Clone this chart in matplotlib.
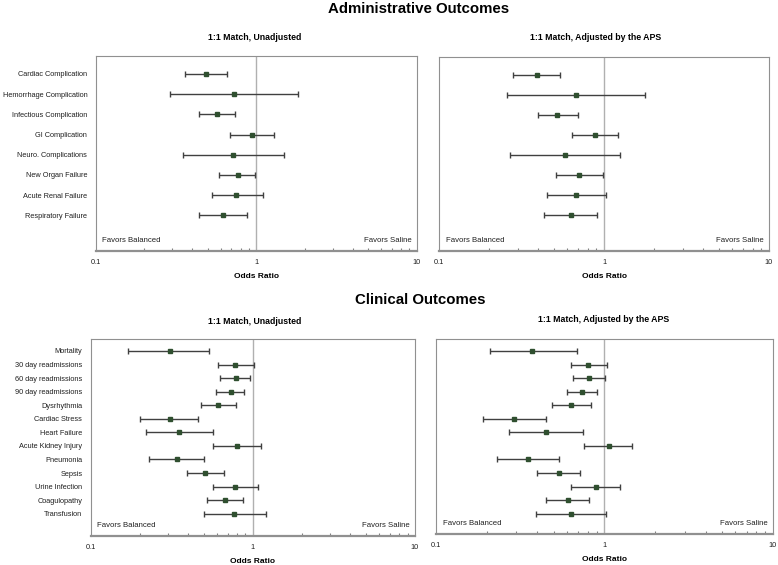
import matplotlib.pyplot as plt
from matplotlib.ticker import LogLocator, NullFormatter

plt.rcParams['font.family'] = ['Liberation Sans', 'DejaVu Sans']

# Administrative outcomes
admin_labels = ["Cardiac Complication", "Hemorrhage Complication", "Infectious Complication",
                "GI Complication", "Neuro. Complications", "New Organ Failure",
                "Acute Renal Failure", "Respiratory Failure"]
admin_unadj_or = [0.49, 0.73, 0.57, 0.94, 0.72, 0.77, 0.75, 0.62]
admin_unadj_lo = [0.36, 0.29, 0.44, 0.69, 0.35, 0.59, 0.53, 0.44]
admin_unadj_hi = [0.66, 1.82, 0.74, 1.29, 1.48, 0.99, 1.10, 0.88]
admin_adj_or = [0.39, 0.68, 0.52, 0.88, 0.58, 0.71, 0.68, 0.63]
admin_adj_lo = [0.28, 0.26, 0.40, 0.64, 0.27, 0.51, 0.45, 0.43]
admin_adj_hi = [0.54, 1.77, 0.70, 1.22, 1.25, 0.98, 1.03, 0.91]

# Clinical outcomes
clin_labels = ["Mortality", "30 day readmissions", "60 day readmissions", "90 day readmissions",
               "Dysrhythmia", "Cardiac Stress", "Heart Failure", "Acute Kidney Injury",
               "Pneumonia", "Sepsis", "Urine Infection", "Coagulopathy", "Transfusion"]
clin_unadj_or = [0.31, 0.78, 0.79, 0.73, 0.61, 0.31, 0.35, 0.80, 0.34, 0.51, 0.78, 0.67, 0.77]
clin_unadj_lo = [0.17, 0.61, 0.63, 0.59, 0.48, 0.20, 0.22, 0.57, 0.23, 0.39, 0.57, 0.52, 0.50]
clin_unadj_hi = [0.54, 1.02, 0.96, 0.88, 0.79, 0.46, 0.57, 1.12, 0.50, 0.66, 1.07, 0.87, 1.21]
clin_adj_or = [0.37, 0.80, 0.81, 0.74, 0.63, 0.29, 0.45, 1.06, 0.35, 0.54, 0.89, 0.61, 0.63]
clin_adj_lo = [0.21, 0.63, 0.65, 0.60, 0.49, 0.19, 0.27, 0.76, 0.23, 0.40, 0.63, 0.45, 0.39]
clin_adj_hi = [0.69, 1.04, 1.01, 0.91, 0.83, 0.45, 0.75, 1.46, 0.54, 0.72, 1.24, 0.81, 1.02]

W, H = 778, 565
fig = plt.figure(figsize=(W / 100, H / 100), dpi=100)


def px_axes(x0, x1, y0, y1):
    return fig.add_axes([x0 / W, 1 - y1 / H, (x1 - x0) / W, (y1 - y0) / H])


def forest(ax, labels, orv, lo, hi, top_pad, bot_pad, show_labels):
    n = len(labels)
    ys = list(range(n))
    err = [[o - l for o, l in zip(orv, lo)], [h - o for o, h in zip(orv, hi)]]
    ax.axvline(1, color='#b0b0b0', lw=1, zorder=1)
    ax.errorbar(orv, ys, xerr=err, fmt='s', color='#2f4f2f', ms=3.2,
                ecolor='#404040', elinewidth=1, capsize=2.3, capthick=1, zorder=3)
    ax.set_xscale('log')
    ax.set_xlim(0.1, 10)
    ax.set_ylim(n - 1 + bot_pad, -top_pad)
    ax.set_yticks(ys)
    if show_labels:
        ax.set_yticklabels(labels, fontsize=5.3, color='#202020')
    else:
        ax.set_yticklabels([])
    ax.tick_params(axis='y', length=0, pad=6)
    ax.set_xticks([0.1, 1, 10])
    ax.set_xticklabels(['0.1', '1', '10'], fontsize=5.3, color='#202020')
    ax.xaxis.set_minor_locator(LogLocator(base=10, subs=range(2, 10)))
    ax.xaxis.set_minor_formatter(NullFormatter())
    ax.tick_params(axis='x', which='both', direction='in', color='#808080', pad=6)
    ax.tick_params(axis='x', which='major', length=0)
    ax.tick_params(axis='x', which='minor', length=2.5, width=0.8)
    for s in ['left', 'top', 'right']:
        ax.spines[s].set_color('#909090')
        ax.spines[s].set_linewidth(0.8)
    ax.spines['bottom'].set_color('#909090')
    ax.spines['bottom'].set_linewidth(1.6)
    ax.set_xlabel('Odds Ratio', fontsize=6, fontweight='bold', labelpad=5)
    ax.text(0.02, 0.035, 'Favors Balanced', transform=ax.transAxes, fontsize=5.6,
            color='#202020', ha='left', va='bottom')
    ax.text(0.985, 0.035, 'Favors Saline', transform=ax.transAxes, fontsize=5.6,
            color='#202020', ha='right', va='bottom')


ax1 = px_axes(95.7, 416.7, 56, 250.7)
forest(ax1, admin_labels, admin_unadj_or, admin_unadj_lo, admin_unadj_hi, 0.89, 1.75, True)
ax2 = px_axes(439, 769, 56.7, 250.7)
forest(ax2, admin_labels, admin_adj_or, admin_adj_lo, admin_adj_hi, 0.89, 1.75, False)
ax3 = px_axes(90.7, 415, 339.3, 536)
forest(ax3, clin_labels, clin_unadj_or, clin_unadj_lo, clin_unadj_hi, 0.86, 1.64, True)
ax4 = px_axes(436, 772.7, 339.3, 534)
forest(ax4, clin_labels, clin_adj_or, clin_adj_lo, clin_adj_hi, 0.86, 1.5, False)

# titles
fig.text(328 / W, 1 - 12.7 / H, 'Administrative Outcomes', ha='left', va='baseline',
         fontsize=10.8, fontweight='bold')
fig.text(355 / W, 1 - 304 / H, 'Clinical Outcomes', ha='left', va='baseline',
         fontsize=10.8, fontweight='bold')
fig.text(255 / W, 1 - 38 / H, '1:1 Match, Unadjusted', ha='center', va='center',
         fontsize=6.3, fontweight='bold')
fig.text(596 / W, 1 - 37 / H, '1:1 Match, Adjusted by the APS', ha='center', va='center',
         fontsize=6.3, fontweight='bold')
fig.text(255 / W, 1 - 321 / H, '1:1 Match, Unadjusted', ha='center', va='center',
         fontsize=6.3, fontweight='bold')
fig.text(604 / W, 1 - 320 / H, '1:1 Match, Adjusted by the APS', ha='center', va='center',
         fontsize=6.3, fontweight='bold')

fig.savefig('out.png', dpi=100)
